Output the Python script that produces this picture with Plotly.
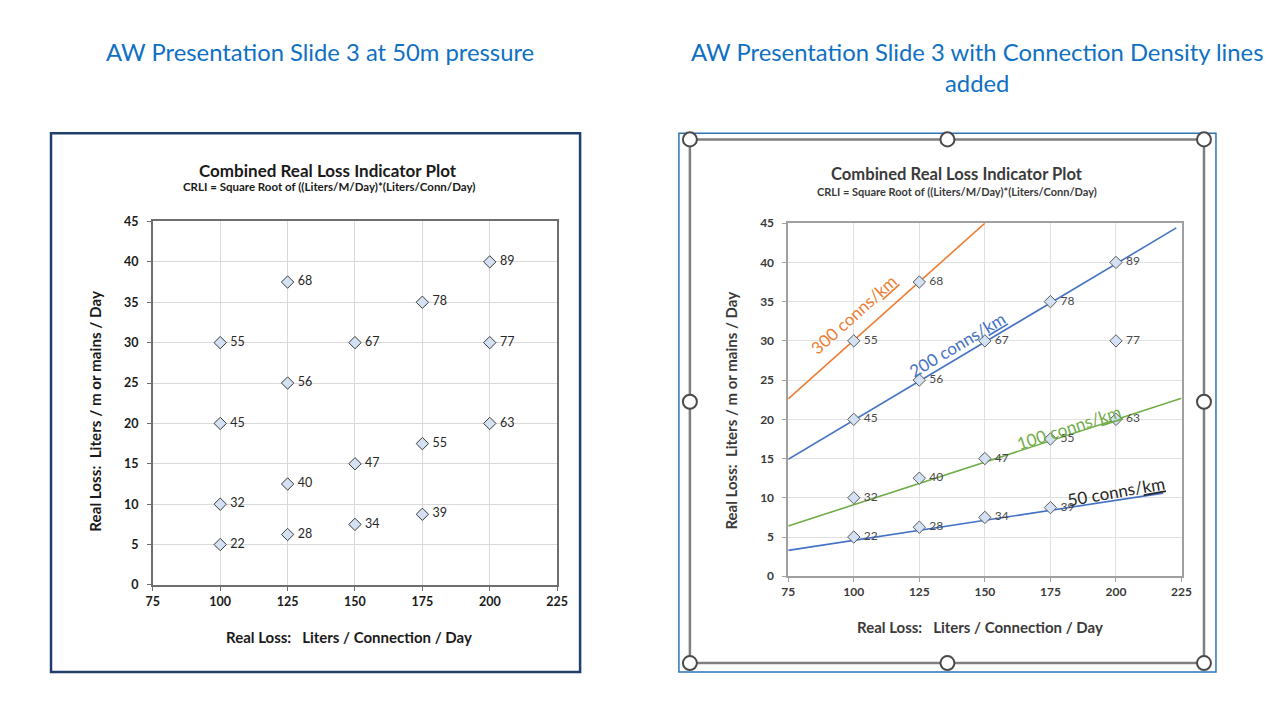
import plotly.graph_objects as go

W, H = 1282, 725

# ---- data ----
conn_x = [100, 100, 100, 100, 125, 125, 125, 125, 150, 150, 150, 175, 175, 175, 200, 200, 200]
mains_y = [5, 10, 20, 30, 6.25, 12.5, 25, 37.5, 7.5, 15, 30, 8.75, 17.5, 35, 20, 30, 40]
crli = [22, 32, 45, 55, 28, 40, 56, 68, 34, 47, 67, 39, 55, 78, 63, 77, 89]

x_ticks = [75, 100, 125, 150, 175, 200, 225]
y_ticks = [0, 5, 10, 15, 20, 25, 30, 35, 40, 45]

# hand-drawn density lines (endpoints)
line_names = ["300 conns/km", "200 conns/km", "100 conns/km", "50 conns/km"]
line_x = [[75, 150], [75, 223], [75, 225], [75, 218]]
line_y = [[22.6, 45], [14.9, 44.4], [6.4, 22.7], [3.3, 10.6]]
line_colors = ["#ED7D31", "#4472C4", "#70AD47", "#4472C4"]
label_x = [100, 139.5, 182, 200]
label_y = [33.3, 29.6, 18.9, 10.8]
label_angle = [-42, -31, -18, -10]
label_colors = ["#ED7D31", "#4472C4", "#70AD47", "#262626"]

FONT = "Lato"

# the photographed page shows the figure offset by the body margin and slightly scaled;
# these map a wanted on-screen pixel to figure paper coordinates
SX, OX = 0.9877, 7.9
SY, OY = 0.978, 7.8

def px_x(p):
    return ((p - OX) / SX) / W

def px_y(p):
    return 1 - ((p - OY) / SY) / H

fig = go.Figure()

marker = dict(symbol="diamond", size=9.5, color="#D3E1F3", line=dict(color="#3A3A3A", width=1))

fig.add_trace(go.Scatter(x=conn_x, y=mains_y, mode="markers+text", text=[f" {v}" for v in crli],
                         textposition="middle right", textfont=dict(family=FONT, size=12.5, color="#262626"),
                         marker=marker, xaxis="x", yaxis="y", showlegend=False, cliponaxis=False))

for i in range(len(line_names)):
    fig.add_trace(go.Scatter(x=line_x[i], y=line_y[i], mode="lines",
                             line=dict(color=line_colors[i], width=1.6),
                             xaxis="x2", yaxis="y2", showlegend=False))

marker2 = dict(symbol="diamond", size=9.5, color="#D3E1F3", line=dict(color="#5A5A5A", width=1))
fig.add_trace(go.Scatter(x=conn_x, y=mains_y, mode="markers+text", text=[f" {v}" for v in crli],
                         textposition="middle right", textfont=dict(family=FONT, size=12, color="#4A4A4A"),
                         marker=marker2, xaxis="x2", yaxis="y2", showlegend=False, cliponaxis=False))

ax_common = dict(showgrid=True, gridwidth=1, zeroline=False, showline=True, mirror=True,
                 ticks="outside", ticklen=4, tickmode="array")

fig.update_layout(
    width=W, height=H, autosize=False,
    margin=dict(l=0, r=0, t=0, b=0),
    paper_bgcolor="white", plot_bgcolor="white",
    xaxis=dict(domain=[px_x(154), px_x(559)], range=[75, 225], tickvals=x_ticks,
               gridcolor="#D9D9D9", linecolor="#6E6E6E", tickcolor="#6E6E6E", linewidth=1.5,
               tickfont=dict(family=FONT, size=12.5, color="#1A1A1A", weight="bold"),
               anchor="y", **ax_common),
    yaxis=dict(domain=[px_y(584), px_y(221)], range=[0, 45], tickvals=y_ticks,
               gridcolor="#D9D9D9", linecolor="#6E6E6E", tickcolor="#6E6E6E", linewidth=1.5,
               tickfont=dict(family=FONT, size=12.5, color="#1A1A1A", weight="bold"),
               anchor="x", ticklabelstandoff=6, **ax_common),
    xaxis2=dict(domain=[px_x(790.5), px_x(1184.5)], range=[75, 225], tickvals=x_ticks,
                gridcolor="#E0E0E0", linecolor="#A0A0A0", tickcolor="#A0A0A0", linewidth=1.5,
                tickfont=dict(family=FONT, size=12, color="#3A3A3A", weight="bold"),
                anchor="y2", **ax_common),
    yaxis2=dict(domain=[px_y(575.3), px_y(222.7)], range=[0, 45], tickvals=y_ticks,
                gridcolor="#E0E0E0", linecolor="#A0A0A0", tickcolor="#A0A0A0", linewidth=1.5,
                tickfont=dict(family=FONT, size=12, color="#3A3A3A", weight="bold"),
                anchor="x2", ticklabelstandoff=6, **ax_common),
)

ann = []
def text(x, y, s, size, color="#1A1A1A", bold=False, angle=0, xref="paper", yref="paper"):
    ann.append(dict(x=x, y=y, xref=xref, yref=yref, text=s, showarrow=False, textangle=angle,
                    font=dict(family=FONT, size=size, color=color, weight="bold" if bold else "normal"),
                    xanchor="center", yanchor="middle"))

BLUE = "#1070C4"
text(px_x(321), px_y(52), "AW Presentation Slide 3 at 50m pressure", 23.8, BLUE)
text(px_x(980), px_y(52), "AW Presentation Slide 3 with Connection Density lines", 23.8, BLUE)
text(px_x(980), px_y(83), "added", 23.8, BLUE)

text(px_x(329), px_y(170), "Combined Real Loss Indicator Plot", 17, "#1A1A1A", True)
text(px_x(330), px_y(186), "CRLI = Square Root of ((Liters/M/Day)*(Liters/Conn/Day)", 11.5, "#1A1A1A", True)
text(px_x(351), px_y(636), "Real Loss:   Liters / Connection / Day", 15, "#1A1A1A", True)
text(px_x(96), px_y(410), "Real Loss:  Liters / m or mains / Day", 15.2, "#1A1A1A", True, -90)

text(px_x(960), px_y(174), "Combined Real Loss Indicator Plot", 16.6, "#3A3A3A", True)
text(px_x(960), px_y(191), "CRLI = Square Root of ((Liters/M/Day)*(Liters/Conn/Day)", 11, "#3A3A3A", True)
text(px_x(983), px_y(626), "Real Loss:   Liters / Connection / Day", 15, "#3A3A3A", True)
text(px_x(733), px_y(410), "Real Loss:  Liters / m or mains / Day", 15, "#3A3A3A", True, -90)

for i in range(len(line_names)):
    s = line_names[i].replace("km", "<u>km</u>")
    text(label_x[i], label_y[i], s, 17, label_colors[i], False, label_angle[i], "x2", "y2")

fig.update_layout(annotations=ann)

shapes = []
shapes.append(dict(type="rect", xref="paper", yref="paper", x0=px_x(52), x1=px_x(582), y0=px_y(671), y1=px_y(133),
                   line=dict(color="#1F3F6E", width=2.5), layer="above"))
shapes.append(dict(type="rect", xref="paper", yref="paper", x0=px_x(681), x1=px_x(1219), y0=px_y(671), y1=px_y(133),
                   line=dict(color="#2E75B6", width=1.5), layer="above"))
shapes.append(dict(type="rect", xref="paper", yref="paper", x0=px_x(692), x1=px_x(1207), y0=px_y(662), y1=px_y(139),
                   line=dict(color="#7F7F7F", width=2.5), layer="above"))
r = 7
for cx, cy in [(692, 139), (950, 139), (1207, 139), (692, 401), (1207, 401), (692, 662), (950, 662), (1207, 662)]:
    shapes.append(dict(type="circle", xref="paper", yref="paper",
                       x0=px_x(cx - r), x1=px_x(cx + r), y0=px_y(cy + r), y1=px_y(cy - r),
                       fillcolor="white", line=dict(color="#4A4A4A", width=2), layer="above"))
fig.update_layout(shapes=shapes)

fig.write_html("out.html")
